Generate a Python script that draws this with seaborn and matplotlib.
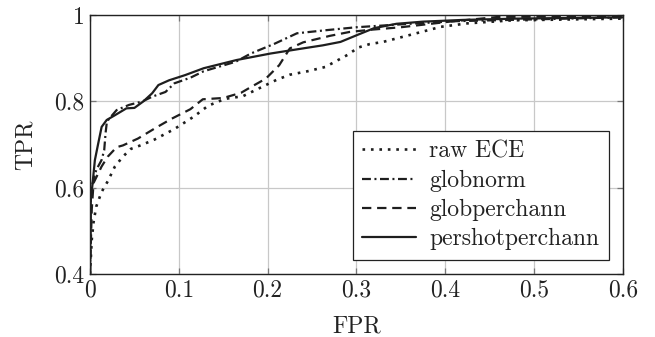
import matplotlib
matplotlib.use("Agg")
import matplotlib.pyplot as plt
import seaborn as sns
import pandas as pd

# ROC curves (FPR, TPR) per normalisation scheme
raw_fpr = [0.0, 0.002, 0.004, 0.007, 0.013, 0.020, 0.028, 0.037, 0.046, 0.058, 0.073, 0.095,
           0.117, 0.133, 0.152, 0.172, 0.190, 0.210, 0.225, 0.245, 0.265, 0.290, 0.302,
           0.315, 0.330, 0.360, 0.395, 0.425, 0.475, 0.6]
raw_tpr = [0.40, 0.48, 0.52, 0.556, 0.59, 0.615, 0.649, 0.672, 0.69, 0.699, 0.712, 0.736,
           0.765, 0.79, 0.806, 0.812, 0.830, 0.850, 0.862, 0.870, 0.880, 0.908, 0.925,
           0.933, 0.938, 0.954, 0.973, 0.981, 0.988, 0.992]

glob_fpr = [0.0, 0.001, 0.007, 0.013, 0.016, 0.0175, 0.019, 0.022, 0.030, 0.044, 0.059,
            0.070, 0.085, 0.095, 0.113, 0.128, 0.164, 0.181, 0.208, 0.233, 0.265, 0.300,
            0.360, 0.410, 0.6]
glob_tpr = [0.40, 0.595, 0.641, 0.664, 0.687, 0.726, 0.753, 0.761, 0.780, 0.792, 0.800,
            0.811, 0.822, 0.842, 0.855, 0.870, 0.892, 0.911, 0.934, 0.958, 0.965, 0.972,
            0.980, 0.986, 0.995]

gpc_fpr = [0.0, 0.002, 0.004, 0.013, 0.020, 0.030, 0.037, 0.054, 0.075, 0.092, 0.113,
           0.127, 0.150, 0.170, 0.180, 0.198, 0.213, 0.225, 0.240, 0.258, 0.270, 0.292,
           0.315, 0.350, 0.405, 0.460, 0.6]
gpc_tpr = [0.40, 0.55, 0.611, 0.649, 0.672, 0.694, 0.698, 0.714, 0.740, 0.760, 0.782,
           0.805, 0.808, 0.820, 0.832, 0.853, 0.884, 0.923, 0.937, 0.946, 0.952, 0.961,
           0.966, 0.972, 0.985, 0.996, 0.997]

psp_fpr = [0.0, 0.001, 0.0025, 0.0055, 0.0093, 0.0131, 0.0188, 0.028, 0.041, 0.050, 0.060,
           0.070, 0.077, 0.089, 0.107, 0.128, 0.165, 0.203, 0.240, 0.262, 0.282, 0.302,
           0.320, 0.345, 0.375, 0.420, 0.480, 0.6]
psp_tpr = [0.40, 0.588, 0.602, 0.664, 0.703, 0.741, 0.757, 0.768, 0.784, 0.785, 0.800,
           0.819, 0.838, 0.849, 0.861, 0.877, 0.896, 0.911, 0.923, 0.930, 0.938, 0.955,
           0.970, 0.980, 0.985, 0.989, 0.992, 0.995]

series_names = ["raw ECE", "globnorm", "globperchann", "pershotperchann"]
xticks = [0, 0.1, 0.2, 0.3, 0.4, 0.5, 0.6]
xtick_labels = ["0", "0.1", "0.2", "0.3", "0.4", "0.5", "0.6"]
yticks = [0.4, 0.6, 0.8, 1.0]
ytick_labels = ["0.4", "0.6", "0.8", "1"]

sns.set_theme(style="white")
plt.rcParams.update({
    "font.family": "serif",
    "font.serif": ["cmr10", "DejaVu Serif"],
    "mathtext.fontset": "cm",
    "axes.formatter.use_mathtext": True,
})

FS = 17
fig = plt.figure(figsize=(6.55, 3.37), dpi=100)
ax = fig.add_axes([0.1374, 0.187, 0.8137, 0.768])

line_color = "#1e1e1e"
styles = [
    dict(linestyle=(0, (1.0, 2.2)), linewidth=1.9),
    dict(linestyle=(0, (4.0, 1.6, 0.9, 1.6)), linewidth=1.6),
    dict(linestyle=(0, (4.2, 2.6)), linewidth=1.6),
    dict(linestyle="-", linewidth=1.6),
]
curves = [(raw_fpr, raw_tpr), (glob_fpr, glob_tpr), (gpc_fpr, gpc_tpr), (psp_fpr, psp_tpr)]

for name, (fx, ty), st in zip(series_names, curves, styles):
    df = pd.DataFrame({"FPR": fx, "TPR": ty})
    sns.lineplot(data=df, x="FPR", y="TPR", ax=ax, sort=False, estimator=None,
                 color=line_color, label=name, clip_on=True, **st)

ax.set_xlim(0, 0.6)
ax.set_ylim(0.4, 1.0)
ax.set_xticks(xticks)
ax.set_xticklabels(xtick_labels)
ax.set_yticks(yticks)
ax.set_yticklabels(ytick_labels)
ax.grid(True, color="#c8c8c8", linewidth=0.9)
ax.set_axisbelow(True)
ax.tick_params(axis="both", which="both", direction="in", length=4, width=0.9,
               color="#777777", labelsize=FS, labelcolor="#222222", pad=4,
               top=True, right=True, bottom=True, left=True)
for sp in ax.spines.values():
    sp.set_visible(True)
    sp.set_color("#222222")
    sp.set_linewidth(1.0)

ax.set_xlabel("FPR", fontsize=FS, color="#222222", labelpad=10)
ax.set_ylabel("TPR", fontsize=FS, color="#222222", labelpad=13)

leg = ax.legend(loc="lower right", fontsize=FS, frameon=True, fancybox=False,
                edgecolor="#222222", framealpha=1, borderpad=0.4, labelspacing=0.3,
                handlelength=2.3, handletextpad=0.55, borderaxespad=0.6)
leg.get_frame().set_linewidth(0.9)
for t in leg.get_texts():
    t.set_color("#222222")

fig.savefig("out.png", dpi=100)
